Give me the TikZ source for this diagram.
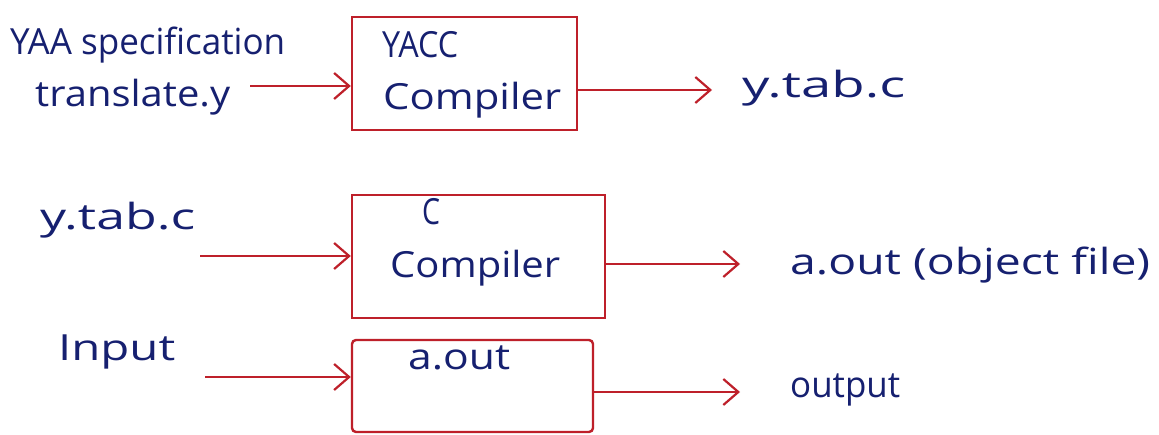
\documentclass[tikz,border=0pt]{standalone}
\usepackage{fontspec}
\setmainfont{Open Sans}
\usetikzlibrary{arrows.meta}
\definecolor{ink}{RGB}{22,32,112}
\definecolor{pen}{RGB}{190,32,42}
% stretch a label horizontally to a given width, keeping its height
\newcommand\wide[2]{\resizebox{#1pt}{\height}{#2}}
\begin{document}
\begin{tikzpicture}[x=1pt,y=-1pt,
  lbl/.style={text=ink,font=\fontsize{36}{38}\selectfont,anchor=west,inner sep=0pt},
  procbox/.style={draw=pen,line width=2.4pt,inner sep=0pt},
  flow/.style={draw=pen,line width=2.2pt,-{Straight Barb[length=15pt,width=26pt,line width=2.2pt]}}]
\useasboundingbox (0,0) rectangle (1159,435);
\fill[white] (0,0) rectangle (1159,435);

% processing boxes
\node[procbox,minimum width=225pt,minimum height=113pt] (yacc) at (464.5,73.5) {};
\node[procbox,minimum width=253pt,minimum height=123pt] (cc) at (478.5,256.5) {};
\node[procbox,minimum width=241pt,minimum height=92pt,rounded corners=4pt] (run) at (472.5,386) {};

% box captions
\node[lbl] (yaccA) at (382,45) {\wide{76}{YACC}};
\node[lbl] (yaccB) at (383,100) {\wide{178}{Compiler}};
\node[lbl] (ccA) at (422,212) {\wide{18}{C}};
\node[lbl] (ccB) at (390,268) {\wide{170}{Compiler}};
\node[lbl] (runA) at (408,358) {\wide{102}{a.out}};

% inputs
\node[lbl] (spec1) at (10,45) {\wide{275}{YAA specification}};
\node[lbl] (spec2) at (35,97) {\wide{195}{translate.y}};
\node[lbl] (tabin) at (40,220) {\wide{155}{y.tab.c}};
\node[lbl] (inp) at (58,352) {\wide{117}{Input}};

% outputs
\node[lbl] (tabout) at (742,88) {\wide{163}{y.tab.c}};
\node[lbl] (obj) at (790,265) {\wide{360}{a.out (object file)}};
\node[lbl] (outp) at (790,390) {\wide{110}{output}};

% connectors
\coordinate (s1) at (250,86);
\coordinate (s2) at (200,256);
\coordinate (s3) at (205,377);
\coordinate (e1) at (712,90);
\coordinate (e2) at (740,264);
\coordinate (e3) at (740,392);
\draw[flow] (s1) -- (s1 -| yacc.west);
\draw[flow] (s2) -- (s2 -| cc.west);
\draw[flow] (s3) -- (s3 -| run.west);
\draw[flow] (e1 -| yacc.east) -- (e1);
\draw[flow] (e2 -| cc.east) -- (e2);
\draw[flow] (e3 -| run.east) -- (e3);
\end{tikzpicture}
\end{document}
